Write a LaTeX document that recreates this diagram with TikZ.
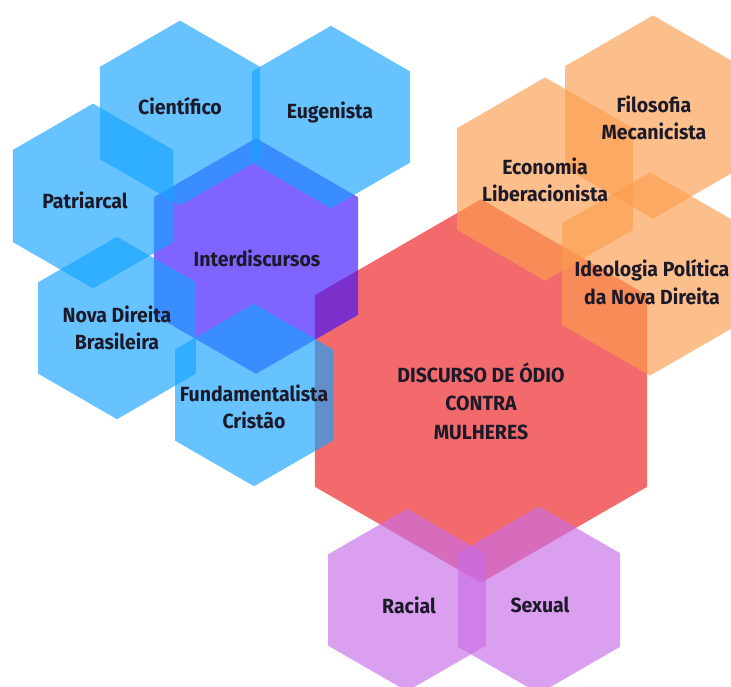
\documentclass[tikz,border=0pt]{standalone}
\usepackage{fontspec}
\setmainfont{Fira Sans}
\newfontfamily\lblfont[FakeStretch=0.95]{Fira Sans}
\usetikzlibrary{shapes.geometric}
\definecolor{cblue}{RGB}{20,164,255}
\definecolor{cpurple}{RGB}{60,17,255}
\definecolor{corange}{RGB}{251,158,78}
\definecolor{clilac}{RGB}{201,109,232}
\definecolor{cred}{RGB}{243,106,108}
\definecolor{ink}{RGB}{28,26,40}
\begin{document}
\begin{tikzpicture}[x=1pt,y=-1pt,
  hexa/.style={regular polygon, regular polygon sides=6, shape border rotate=30,
    inner sep=0pt, outer sep=0pt, draw=none, minimum size=#1},
  bluehex/.style={hexa=#1, fill=cblue, fill opacity=0.65},
  purplehex/.style={hexa=#1, fill=cpurple, fill opacity=0.65},
  orangehex/.style={hexa=#1, fill=corange, fill opacity=0.65},
  lilachex/.style={hexa=#1, fill=clilac, fill opacity=0.65},
  redhex/.style={hexa=#1, fill=cred},
  lab/.style={font=\lblfont\bfseries\fontsize{20.5}{27.5}\selectfont, text=ink, align=center, inner sep=0pt}
]
\fill[white] (0,0) rectangle (731,686);
\useasboundingbox (0,0) rectangle (731,686);
% bottom layer
\node[redhex=383.4] (odio) at (481,391) {};
\node[purplehex=235.6] (inter) at (256,256) {};
% blue
\node[bluehex=184.8] (cien) at (180,113) {};
\node[bluehex=182.4] (eug) at (331,117) {};
\node[bluehex=184.8] (pat) at (93,196) {};
\node[bluehex=182.4] (nova) at (117,328) {};
\node[bluehex=182.4] (fund) at (254,395) {};
% orange
\node[orangehex=203.2] (econ) at (545,179) {};
\node[orangehex=203.2] (filo) at (653,117) {};
\node[orangehex=203.2] (ideo) at (650,274) {};
% lilac
\node[lilachex=182.4] (racial) at (407,600) {};
\node[lilachex=187.1] (sexual) at (539,600) {};
% labels
\node[lab] (tcien) at (180,106) {Científico};
\node[lab] (teug) at (330,112) {Eugenista};
\node[lab] (tpat) at (85,200) {Patriarcal};
\node[lab] (tinter) at (257,258) {Interdiscursos};
\node[lab] (tnova) at (117,328) {Nova Direita\\Brasileira};
\node[lab] (tfund) at (254,407) {Fundamentalista\\Cristão};
\node[lab] (tecon) at (545,180) {Economia\\Liberacionista};
\node[lab] (tfilo) at (654,118) {Filosofia\\Mecanicista};
\node[lab] (tideo) at (652,282) {Ideologia Política\\da Nova Direita};
\node[lab, font=\lblfont\bfseries\fontsize{20.5}{28.5}\selectfont] (todio) at (481,401) {DISCURSO DE ÓDIO\\CONTRA\\MULHERES};
\node[lab] (tracial) at (409,605) {Racial};
\node[lab] (tsexual) at (540,605) {Sexual};
\end{tikzpicture}
\end{document}
